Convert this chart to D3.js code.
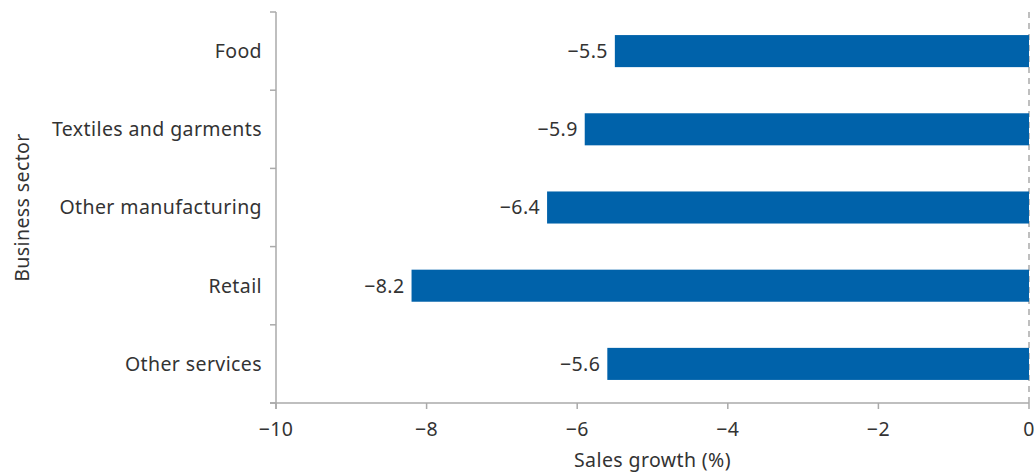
<!DOCTYPE html>
<html><head><meta charset="utf-8">
<script src="https://cdn.jsdelivr.net/npm/d3@7"></script>
<style>body{margin:0;background:#fff}svg{display:block}text{font-family:"Noto Sans","Open Sans",sans-serif;fill:#333;font-size:19.5px;letter-spacing:0.4px}</style>
</head><body>
<svg id="c" width="1034" height="474"></svg>
<script>
const categories = ["Food","Textiles and garments","Other manufacturing","Retail","Other services"];
const values = [-5.5,-5.9,-6.4,-8.2,-5.6];
const xTicks = [-10,-8,-6,-4,-2,0];

const svg = d3.select("#c");
const m = {left:276, right:1029, top:12, bottom:403};
const x = d3.scaleLinear().domain([-10,0]).range([m.left,m.right]);
const y = d3.scaleBand().domain(categories).range([m.top,m.bottom]).paddingInner(0.59).paddingOuter(0.295);
const fmt = v => (v<0?"\u2212":"")+Math.abs(v).toFixed(1);
const fmtT = v => (v<0?"\u2212":"")+Math.abs(v);

// zero dashed line
svg.append("line").attr("x1",x(0)).attr("x2",x(0)).attr("y1",m.top).attr("y2",m.bottom)
  .attr("stroke","#aaa").attr("stroke-width",1.5).attr("stroke-dasharray","6,5");

svg.selectAll("rect.bar").data(categories).join("rect").attr("class","bar")
  .attr("x",(d,i)=>x(values[i])).attr("width",(d,i)=>x(0)-x(values[i]))
  .attr("y",d=>y(d)).attr("height",y.bandwidth()).attr("fill","#0062aa");

svg.selectAll("text.val").data(categories).join("text").attr("class","val")
  .attr("x",(d,i)=>x(values[i])-7).attr("y",d=>y(d)+y.bandwidth()/2).attr("dy","0.35em")
  .attr("text-anchor","end").text((d,i)=>fmt(values[i]));

// x axis
const xa = svg.append("g").attr("transform",`translate(0,${m.bottom})`);
xa.append("line").attr("x1",m.left-6).attr("x2",m.right).attr("stroke","#aaa").attr("stroke-width",1.5);
xa.selectAll("line.t").data(xTicks).join("line").attr("class","t")
  .attr("x1",d=>x(d)).attr("x2",d=>x(d)).attr("y1",0).attr("y2",6).attr("stroke","#aaa").attr("stroke-width",1.5);
xa.selectAll("text").data(xTicks).join("text").attr("x",d=>x(d)).attr("y",33)
  .attr("text-anchor","middle").text(fmtT);

// y axis
const bnd = categories.map(c=>y(c)-y.step()*y.paddingInner()/2);
bnd.push(m.bottom);
bnd[0]=m.top;
const ya = svg.append("g");
ya.append("line").attr("x1",m.left).attr("x2",m.left).attr("y1",m.top).attr("y2",m.bottom+6).attr("stroke","#aaa").attr("stroke-width",1.5);
ya.selectAll("line.t").data(bnd).join("line").attr("class","t")
  .attr("x1",m.left-6).attr("x2",m.left).attr("y1",d=>d).attr("y2",d=>d).attr("stroke","#aaa").attr("stroke-width",1.5);
ya.selectAll("text").data(categories).join("text").attr("x",m.left-14).attr("y",d=>y(d)+y.bandwidth()/2).attr("dy","0.35em")
  .attr("text-anchor","end").text(d=>d);

svg.append("text").attr("x",(m.left+m.right)/2).attr("y",467).attr("text-anchor","middle").text("Sales growth (%)");
svg.append("text").attr("transform",`translate(29,${(m.top+m.bottom)/2}) rotate(-90)`).attr("text-anchor","middle").text("Business sector");
</script>
</body></html>
